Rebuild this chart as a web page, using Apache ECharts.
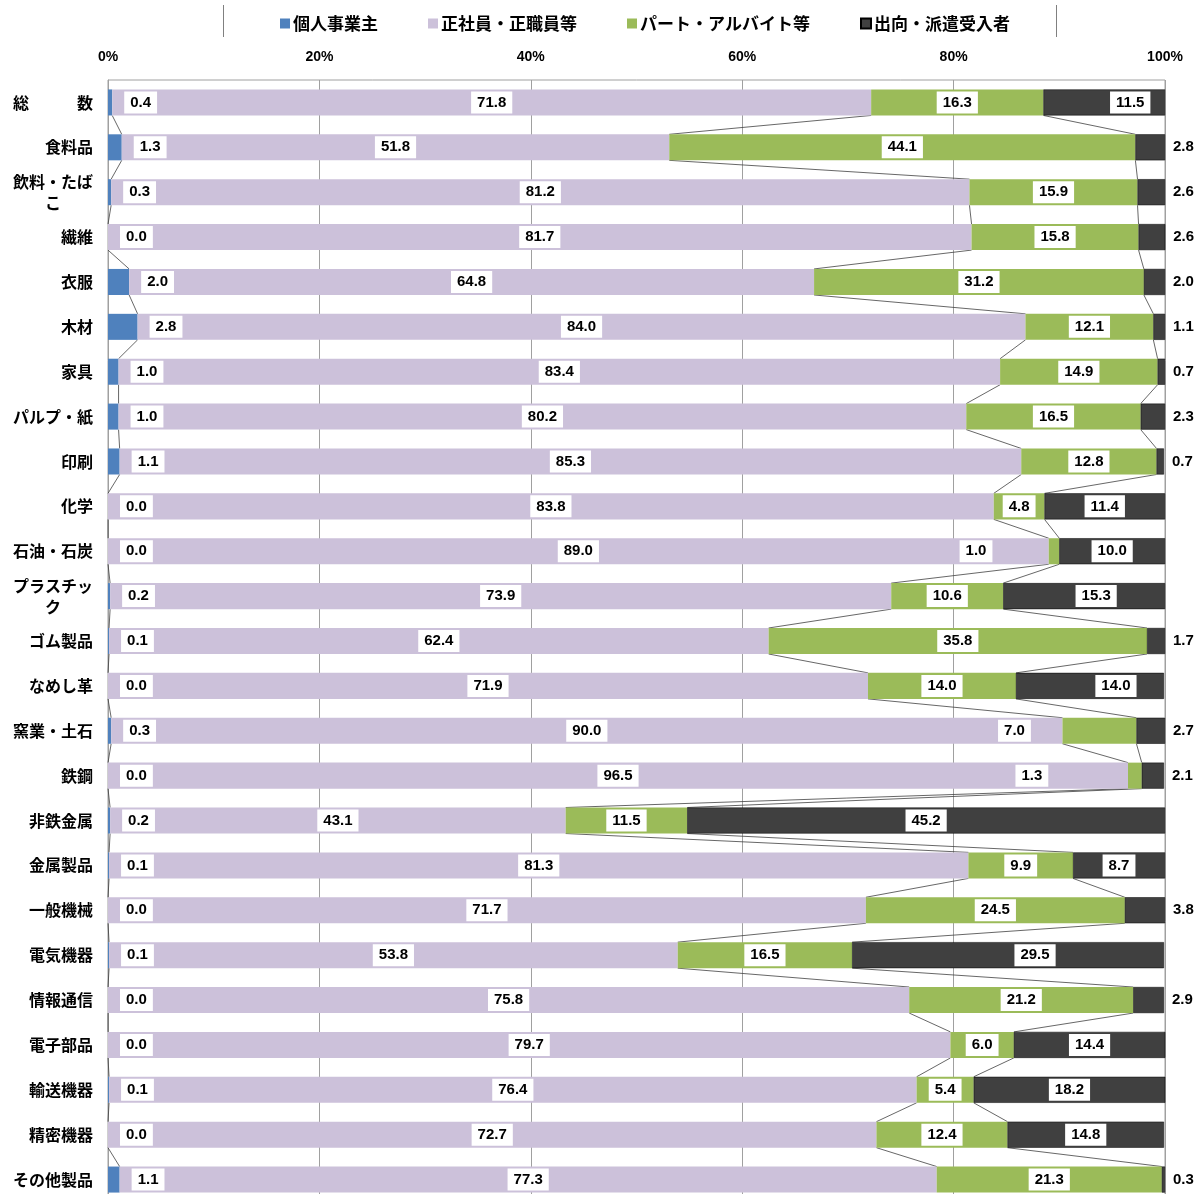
<!DOCTYPE html>
<html>
<head>
	<meta charset="utf-8" />
	<script src="https://cdn.jsdelivr.net/npm/echarts@6/dist/echarts.min.js"></script>
</head>
<body style="margin:0; overflow:hidden; background-color:#ffffff">
	<!-- the original chart is cut off a few pixels below the window, so the canvas is a bit taller -->
	<div id="main" style="width:1200px; height:1202px;"></div>
</body>
<script type="text/javascript">
	var categories = ['総　　　数', '食料品', '飲料・たばこ', '繊維', '衣服', '木材', '家具', 'パルプ・紙', '印刷', '化学',
		'石油・石炭', 'プラスチック', 'ゴム製品', 'なめし革', '窯業・土石', '鉄鋼', '非鉄金属', '金属製品', '一般機械',
		'電気機器', '情報通信', '電子部品', '輸送機器', '精密機器', 'その他製品'];
	var selfEmployed = [0.4, 1.3, 0.3, 0.0, 2.0, 2.8, 1.0, 1.0, 1.1, 0.0, 0.0, 0.2, 0.1, 0.0, 0.3, 0.0, 0.2, 0.1, 0.0, 0.1, 0.0, 0.0, 0.1, 0.0, 1.1];
	var regular = [71.8, 51.8, 81.2, 81.7, 64.8, 84.0, 83.4, 80.2, 85.3, 83.8, 89.0, 73.9, 62.4, 71.9, 90.0, 96.5, 43.1, 81.3, 71.7, 53.8, 75.8, 79.7, 76.4, 72.7, 77.3];
	var partTime = [16.3, 44.1, 15.9, 15.8, 31.2, 12.1, 14.9, 16.5, 12.8, 4.8, 1.0, 10.6, 35.8, 14.0, 7.0, 1.3, 11.5, 9.9, 24.5, 16.5, 21.2, 6.0, 5.4, 12.4, 21.3];
	var dispatched = [11.5, 2.8, 2.6, 2.6, 2.0, 1.1, 0.7, 2.3, 0.7, 11.4, 10.0, 15.3, 1.7, 14.0, 2.7, 2.1, 45.2, 8.7, 3.8, 29.5, 2.9, 14.4, 18.2, 14.8, 0.3];
	var seriesNames = ['個人事業主', '正社員・正職員等', 'パート・アルバイト等', '出向・派遣受入者'];
	var xTicks = [0, 20, 40, 60, 80, 100];

	// hand-moved labels (pixel shifts)
	var partLabelShift = { '石油・石炭': -78, '窯業・土石': -85, '鉄鋼': -103 };
	var dispatchedLabelShift = { '総　　　数': 26, 'プラスチック': 12, 'なめし革': 26, '電気機器': 27 };

	var barRatio = 0.58;
	var numFont = 'Liberation Sans, Arial, sans-serif';
	var jpFont = '"Noto Sans CJK JP", sans-serif';

	var boxLabel = {
		show: true,
		color: '#000',
		fontFamily: numFont,
		fontWeight: 'bold',
		fontSize: 15,
		backgroundColor: '#ffffff',
		padding: [4, 6, 3, 6],
		formatter: function (p) { return p.value.toFixed(1); }
	};

	function withLabel(extra) {
		return Object.assign({}, boxLabel, extra);
	}

	// series lines between neighbouring bars
	var linkData = [];
	for (var i = 0; i < categories.length - 1; i++) {
		var a1 = selfEmployed[i], a2 = a1 + regular[i], a3 = a2 + partTime[i];
		var b1 = selfEmployed[i + 1], b2 = b1 + regular[i + 1], b3 = b2 + partTime[i + 1];
		linkData.push([i, a1, a2, a3, b1, b2, b3]);
	}

	var myChart = echarts.init(document.getElementById('main'));

	var option = {
		backgroundColor: '#ffffff',
		animation: false,
		legend: {
			top: 10,
			left: 275,
			itemWidth: 10,
			itemHeight: 10,
			itemGap: 50,
			icon: 'rect',
			textStyle: { fontFamily: jpFont, fontWeight: 'bold', fontSize: 17, color: '#000', padding: [0, 0, 0, -2] },
			data: seriesNames
		},
		graphic: [
			{ type: 'line', shape: { x1: 223.5, y1: 5, x2: 223.5, y2: 37 }, style: { stroke: '#808080', lineWidth: 1 } },
			{ type: 'line', shape: { x1: 1056.5, y1: 5, x2: 1056.5, y2: 37 }, style: { stroke: '#808080', lineWidth: 1 } }
		],
		grid: {
			left: 108,
			right: 35,
			top: 80,
			bottom: 0,
			show: true,
			borderColor: '#a0a0a0',
			borderWidth: 1
		},
		xAxis: {
			type: 'value',
			position: 'top',
			min: 0,
			max: 100,
			interval: 20,
			axisLine: { show: false },
			axisTick: { show: false },
			splitLine: { lineStyle: { color: '#a0a0a0', width: 1 } },
			axisLabel: {
				margin: 16,
				color: '#000',
				fontFamily: numFont,
				fontWeight: 'bold',
				fontSize: 14,
				formatter: function (v) { return xTicks.indexOf(v) >= 0 ? v + '%' : ''; }
			}
		},
		yAxis: {
			type: 'category',
			inverse: true,
			data: categories,
			axisLine: { show: true, lineStyle: { color: '#a0a0a0' } },
			axisTick: { show: false },
			axisLabel: {
				margin: 15,
				color: '#000',
				fontFamily: jpFont,
				fontWeight: 'bold',
				fontSize: 16,
				lineHeight: 21,
				formatter: function (v) {
					if (v.length > 5) return v.slice(0, 5) + '\n{c|' + v.slice(5) + '}';
					return v;
				},
				rich: {
					c: { width: 80, align: 'center', fontFamily: jpFont, fontWeight: 'bold', fontSize: 16, color: '#000', lineHeight: 21 }
				}
			}
		},
		series: [
			{
				name: seriesNames[0],
				type: 'bar',
				stack: 'total',
				barWidth: (barRatio * 100) + '%',
				itemStyle: { color: '#4f81bd' },
				label: withLabel({ position: 'right', distance: 12 }),
				data: selfEmployed
			},
			{
				name: seriesNames[1],
				type: 'bar',
				stack: 'total',
				itemStyle: { color: '#ccc1da' },
				label: withLabel({ position: 'inside' }),
				data: regular
			},
			{
				name: seriesNames[2],
				type: 'bar',
				stack: 'total',
				itemStyle: { color: '#9bbb59' },
				label: withLabel({ position: 'inside' }),
				data: partTime.map(function (v, i) {
					var dx = partLabelShift[categories[i]];
					return dx === undefined ? v : { value: v, label: { offset: [dx, 0] } };
				})
			},
			{
				name: seriesNames[3],
				type: 'bar',
				stack: 'total',
				itemStyle: { color: '#404040', borderColor: '#000', borderWidth: 0.5 },
				label: withLabel({ position: 'inside' }),
				data: dispatched.map(function (v, i) {
					if (v < 5) return { value: v, label: { position: 'right', distance: 2 } };
					var dx = dispatchedLabelShift[categories[i]];
					return dx === undefined ? v : { value: v, label: { offset: [dx, 0] } };
				})
			},
			{
				type: 'custom',
				silent: true,
				encode: { x: [1, 2, 3, 4, 5, 6], y: 0 },
				renderItem: function (params, api) {
					var y0 = api.value(0);
					var half = api.size([0, 1])[1] * barRatio / 2;
					var children = [];
					for (var k = 0; k < 3; k++) {
						var p0 = api.coord([api.value(1 + k), y0]);
						var p1 = api.coord([api.value(4 + k), y0 + 1]);
						children.push({
							type: 'line',
							shape: { x1: p0[0], y1: p0[1] + half, x2: p1[0], y2: p1[1] - half },
							style: { stroke: '#404040', lineWidth: 0.8 }
						});
					}
					return { type: 'group', children: children };
				},
				data: linkData,
				z: 1
			}
		]
	};

	myChart.setOption(option);
</script>
</html>
